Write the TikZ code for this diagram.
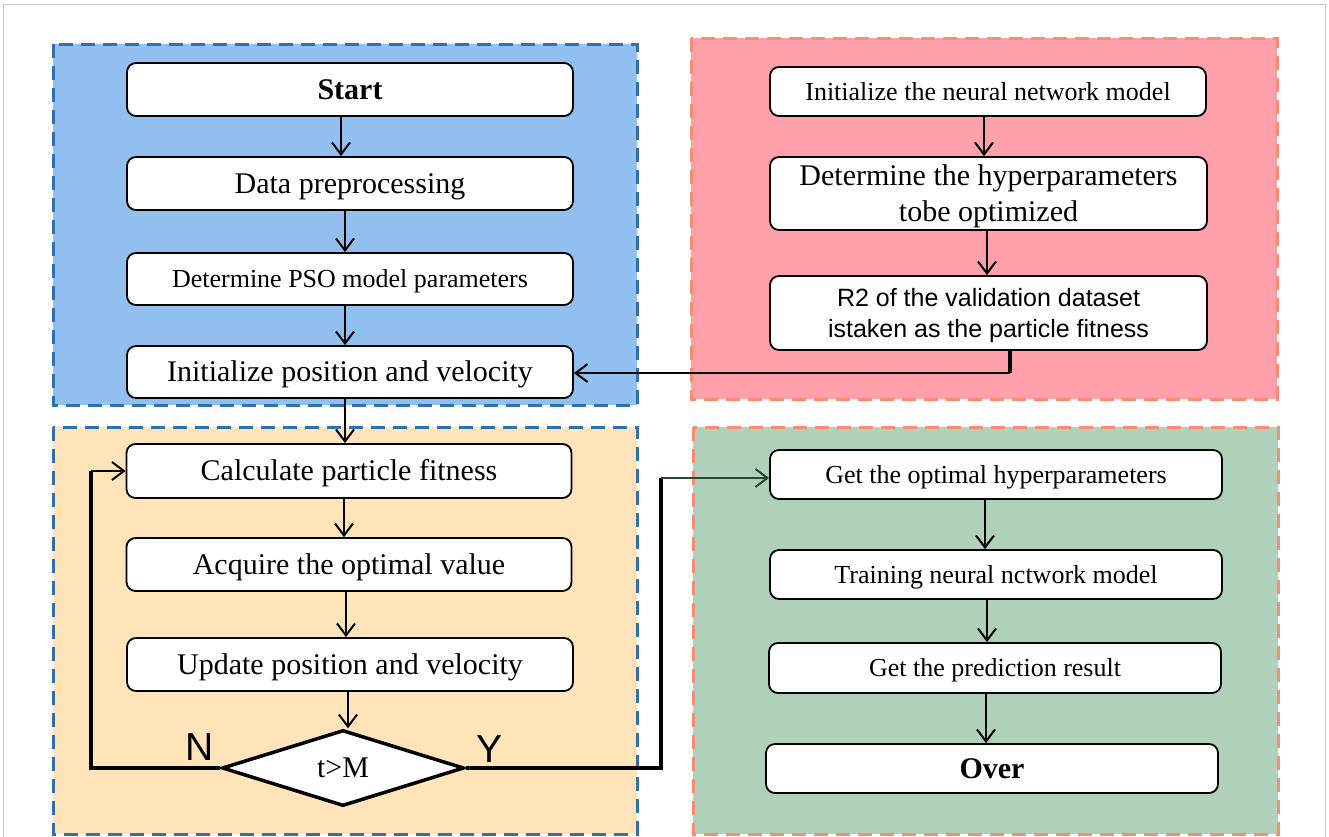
\documentclass[tikz,border=0pt]{standalone}
\usepackage{fontspec}
\setmainfont{Liberation Serif}
\setsansfont{Liberation Sans}
\usetikzlibrary{shapes.geometric,arrows.meta}

\definecolor{bluefill}{RGB}{145,192,240}
\definecolor{blueedge}{RGB}{46,112,178}
\definecolor{pinkfill}{RGB}{255,160,171}
\definecolor{salmonedge}{RGB}{255,138,112}
\definecolor{orangefill}{RGB}{255,228,186}
\definecolor{greenfill}{RGB}{175,208,186}
\definecolor{framegray}{RGB}{200,200,200}
\definecolor{darkgreenline}{RGB}{40,70,55}

\begin{document}
\begin{tikzpicture}[x=1pt,y=-1pt,
  panel/.style={line width=3pt, dash pattern=on 14pt off 8pt},
  boxbase/.style={draw=black, fill=white, line width=1.8pt, rounded corners=9pt,
    inner sep=0pt, align=center},
  % single-line boxes: centre the capitals, not the descenders
  stepbox/.style={boxbase, font=\fontsize{30}{36}\selectfont, text height=27pt, text depth=7.2pt},
  smallbox/.style={boxbase, font=\fontsize{26}{31}\selectfont, text height=23.4pt, text depth=6.2pt},
  % two-line boxes
  twobox/.style={boxbase, font=\fontsize{30}{36}\selectfont, text depth=0pt},
  sansbox/.style={boxbase, font=\sffamily\fontsize{25}{31}\selectfont, text depth=0pt},
  arr/.style={line width=2pt, -{Straight Barb[length=12pt,width=18pt,line width=2pt]}},
  heavy/.style={line width=3.5pt},
  yn/.style={font=\sffamily\fontsize{39}{39}\selectfont, inner sep=0pt}
]
\useasboundingbox (0,0) rectangle (1329,836);
\clip (0,0) rectangle (1329,836);

% outer frame
\draw[framegray, line width=1pt] (3.5,4.5) rectangle (1325.5,860);

% panels
\filldraw[fill=bluefill, draw=blueedge, panel] (53,44) rectangle (637,405);
\filldraw[fill=pinkfill, draw=salmonedge, panel] (691,38) rectangle (1277,399);
\filldraw[fill=orangefill, draw=blueedge, panel] (53,427) rectangle (637,834);
\filldraw[fill=greenfill, draw=salmonedge, panel] (693,427) rectangle (1278,834);

% PSO set-up
\node[stepbox, minimum width=446pt, minimum height=53pt] (start) at (350,89.5) {\textbf{Start}};
\node[stepbox, minimum width=446pt, minimum height=53pt] (data) at (350,183.5) {Data preprocessing};
\node[smallbox, minimum width=446pt, minimum height=52pt] (pso) at (350,279) {Determine PSO model parameters};
\node[stepbox, minimum width=446pt, minimum height=52pt] (init) at (350,372) {Initialize position and velocity};

% PSO iteration
\node[stepbox, minimum width=445pt, minimum height=54pt] (calc) at (349,471) {Calculate particle fitness};
\node[stepbox, minimum width=445pt, minimum height=53pt] (acq) at (349,564.5) {Acquire the optimal value};
\node[stepbox, minimum width=446pt, minimum height=53pt] (upd) at (350,664.5) {Update position and velocity};
\node[draw=black, fill=white, line width=3.5pt, diamond, aspect=3.2, minimum width=242pt,
  minimum height=76pt, inner sep=0pt, font=\fontsize{30}{36}\selectfont] (dia) at (343,768) {t>M};
\node[yn] (nlab) at (200,747) {N};
\node[yn] (ylab) at (489.5,749) {Y};

% neural network set-up
\node[smallbox, minimum width=436pt, minimum height=49pt] (nninit) at (988,91.5) {Initialize the neural network model};
\node[twobox, minimum width=437pt, minimum height=73pt] (hyper) at (988.5,193.5) {Determine the hyperparameters\\tobe optimized};
\node[sansbox, minimum width=437pt, minimum height=74pt] (r2) at (988.5,313) {R2 of the validation dataset\\istaken as the particle fitness};

% final model
\node[smallbox, minimum width=452pt, minimum height=49pt] (opt) at (996,474.5) {Get the optimal hyperparameters};
\node[smallbox, minimum width=452pt, minimum height=49pt] (train) at (996,574.5) {Training neural nctwork model};
\node[smallbox, minimum width=452pt, minimum height=50pt] (pred) at (995,668) {Get the prediction result};
\node[stepbox, minimum width=452pt, minimum height=49pt] (over) at (992,768.5) {\textbf{Over}};

% straight flow
\draw[arr] ([xshift=-9pt]start.south) -- ([xshift=-9pt]data.north);
\draw[arr] ([xshift=-5pt]data.south) -- ([xshift=-5pt]pso.north);
\draw[arr] ([xshift=-5pt]pso.south) -- ([xshift=-5pt]init.north);
\draw[arr] ([xshift=-5pt]init.south) -- ([xshift=-4pt]calc.north);
\draw[arr] ([xshift=-5pt]calc.south) -- ([xshift=-5pt]acq.north);
\draw[arr] ([xshift=-3pt]acq.south) -- ([xshift=-3pt]acq.south |- upd.north);
\draw[arr] ([xshift=-2pt]upd.south) -- ([xshift=-2pt]upd.south |- dia.north);

\draw[arr] ([xshift=-4pt]nninit.south) -- ([xshift=-4pt]nninit.south |- hyper.north);
\draw[arr] ([xshift=-1.5pt]hyper.south) -- ([xshift=-1.5pt]r2.north);

\draw[arr] ([xshift=-11pt]opt.south) -- ([xshift=-11pt]train.north);
\draw[arr] ([xshift=-9pt]train.south) -- ([xshift=-9pt]train.south |- pred.north);
\draw[arr] ([xshift=-9pt]pred.south) -- ([xshift=-9pt]pred.south |- over.north);

% fitness feedback into the swarm
\coordinate (rc) at (1010,373);
\draw[heavy] (rc |- r2.south) -- (rc);
\draw[arr] (rc) -- (rc -| init.east);

% loop while t <= M
\coordinate (nc) at (91,471);
\draw[heavy] (dia.west) -| (nc);
\draw[arr] (nc) -- (calc.west);

% exit when t > M
\coordinate (yc) at (661,478);
\draw[heavy] (dia.east) -| (yc);
\draw[arr, draw=darkgreenline] (yc) -- (yc -| opt.west);
\end{tikzpicture}
\end{document}
